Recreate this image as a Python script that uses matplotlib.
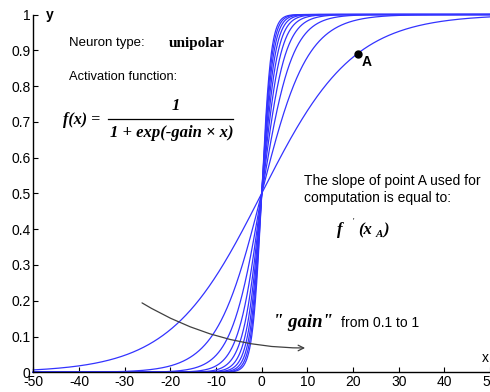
import numpy as np
import matplotlib
matplotlib.use("Agg")
import matplotlib.pyplot as plt

plt.rcParams['axes.unicode_minus'] = False

gains = [0.1, 0.2, 0.3, 0.4, 0.5, 0.6, 0.7, 0.8, 0.9, 1.0]
x_range = [-50, 50]
point_A_x = 21
point_A_gain = 0.1
x_ticks = [-50, -40, -30, -20, -10, 0, 10, 20, 30, 40, 50]
y_ticks = [0, 0.1, 0.2, 0.3, 0.4, 0.5, 0.6, 0.7, 0.8, 0.9, 1]
y_tick_labels = ["0", "0.1", "0.2", "0.3", "0.4", "0.5", "0.6", "0.7", "0.8", "0.9", "1"]

SANS = "Liberation Sans"
SERIF = "Liberation Serif"

fig = plt.figure(figsize=(4.9, 3.92), dpi=100)
ax = fig.add_axes([33.3/490, 1 - 372.3/392, 456.8/490, 357.8/392])

x = np.linspace(x_range[0], x_range[1], 2001)
for g in gains:
    ax.plot(x, 1/(1 + np.exp(-g*x)), color=(0.2, 0.2, 1.0), lw=0.9, clip_on=False)

yA = 1/(1 + np.exp(-point_A_gain*point_A_x))
ax.plot([point_A_x], [yA], 'o', color='black', ms=5, clip_on=False)
ax.text(21.9, 0.867, "A", fontsize=10, fontweight='bold', family=SANS, va='center')

ax.set_xlim(*x_range)
ax.set_ylim(0, 1)
ax.set_xticks(x_ticks)
ax.set_yticks(y_ticks)
ax.set_yticklabels(y_tick_labels)
for s in ['top', 'right']:
    ax.spines[s].set_visible(False)
for s in ['left', 'bottom']:
    ax.spines[s].set_linewidth(1.0)
ax.tick_params(direction='in', length=3.6, width=0.8, labelsize=10, pad=2)
for lab in ax.get_xticklabels() + ax.get_yticklabels():
    lab.set_fontfamily(SANS)

# axis name labels
ax.text(-46.3, 0.999, "y", fontsize=10, fontweight='bold', family=SANS, va='center', ha='center')
ax.text(48.9, 0.04, "x", fontsize=10, family=SANS, va='center', ha='center')

# text annotations
ax.text(-42.2, 0.920, "Neuron type:", fontsize=9.5, family=SANS, va='center')
ax.text(-20.3, 0.920, "unipolar", fontsize=11, family=SERIF, fontweight='bold', va='center')
ax.text(-42.2, 0.825, "Activation function:", fontsize=9.3, family=SANS, va='center')

# formula
BI = dict(family=SERIF, style='italic', fontweight='bold', va='center')
ax.text(-43.5, 0.705, "f(x) =", fontsize=11.5, **BI)
ax.text(-18.7, 0.744, "1", fontsize=12, ha='center', **BI)
ax.plot([-33.6, -6.3], [0.708, 0.708], color='black', lw=0.9, clip_on=False)
ax.text(-19.6, 0.669, "1 + exp(-gain \u00d7 x)", fontsize=12, ha='center', **BI)

ax.text(9.3, 0.535, "The slope of point A used for", fontsize=10, family=SANS, va='center')
ax.text(9.3, 0.487, "computation is equal to:", fontsize=10, family=SANS, va='center')

ax.text(16.5, 0.398, "f", fontsize=12, **BI)
ax.text(19.9, 0.42, "'", fontsize=6, family=SERIF, va='center')
ax.text(21.1, 0.398, "(x", fontsize=12, **BI)
ax.text(24.9, 0.385, "A", fontsize=8, **BI)
ax.text(26.5, 0.398, ")", fontsize=12, **BI)

ax.text(2.5, 0.138, "\" gain\"", fontsize=13.5, **BI)
ax.text(17.3, 0.138, "from 0.1 to 1", fontsize=10, family=SANS, va='center')

ax.annotate("", xy=(9.5, 0.068), xytext=(-26.2, 0.194),
            arrowprops=dict(arrowstyle='->', color=(0.25, 0.25, 0.25), lw=0.9,
                            connectionstyle='arc3,rad=0.14', shrinkA=0, shrinkB=0))

fig.savefig("out.png", dpi=100)
